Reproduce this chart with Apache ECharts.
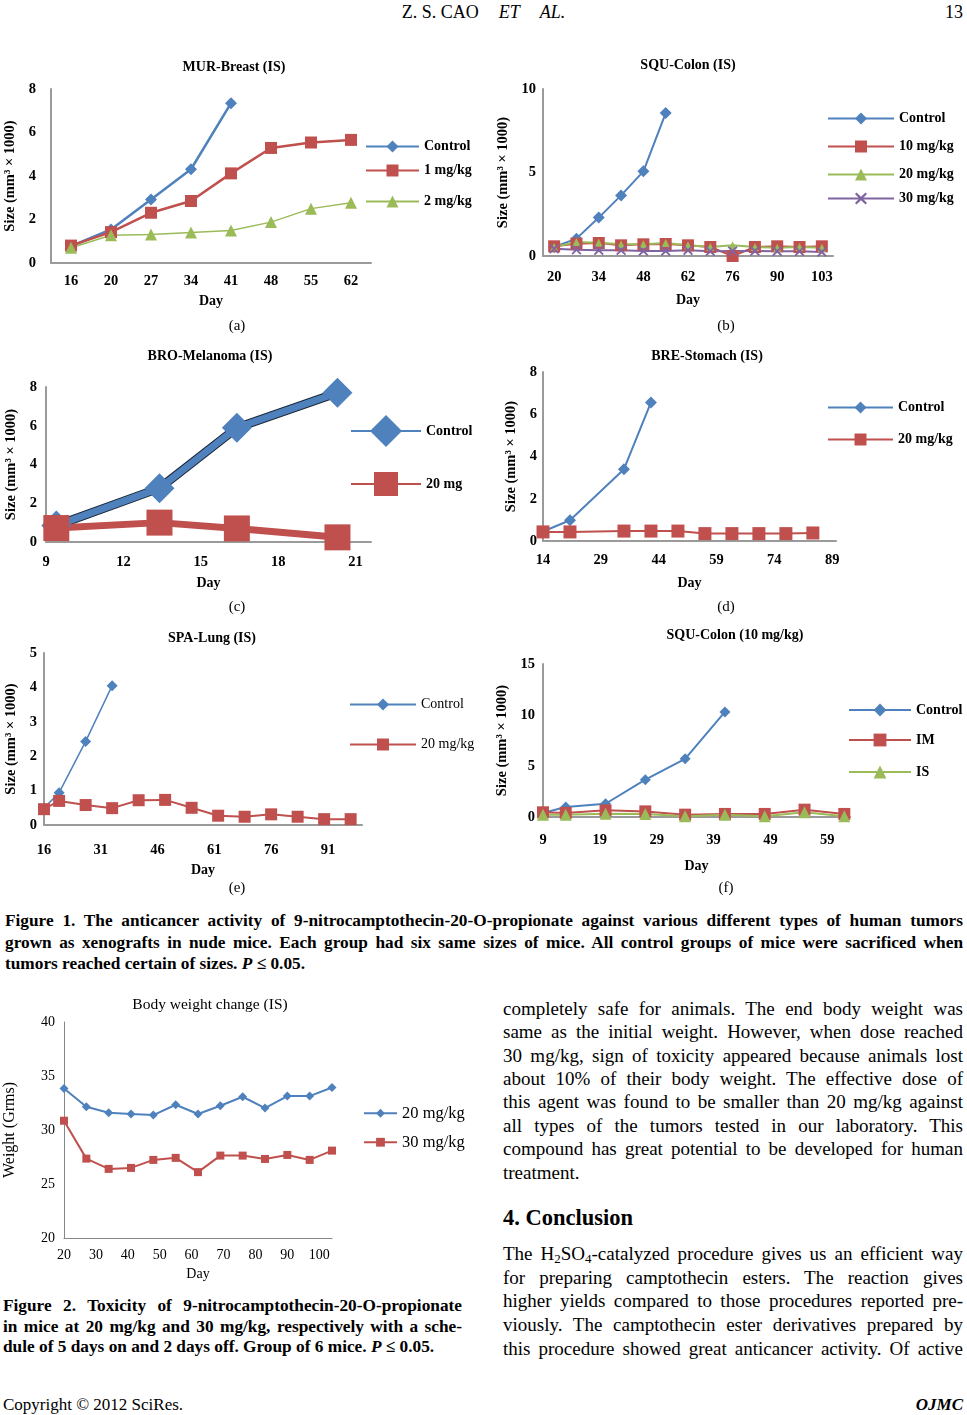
<!DOCTYPE html>
<html lang="en"><head><meta charset="utf-8"><title>Z. S. Cao et al. p.13</title>
<script src="https://cdn.jsdelivr.net/npm/echarts@6.0.0/dist/echarts.min.js"></script>
<style>
html,body{margin:0;padding:0;background:#fff}
body{width:967px;height:1415px;position:relative;overflow:hidden;font-family:"Liberation Serif","Times New Roman",serif;color:#000}
.ch{position:absolute}
.t{position:absolute;white-space:nowrap}
.cap{position:absolute;font-size:15px;line-height:18px;transform:translate(-50%,-50%);white-space:nowrap}
.ln{position:absolute;white-space:normal;overflow:visible}
.j{text-align:justify;text-align-last:justify}
</style></head><body>
<div class="t" style="left:0;width:967px;top:2px;text-align:center;font-size:18px;line-height:20px">Z. S. CAO<span style="margin-left:20px"><i>ET</i></span><span style="margin-left:20px"><i>AL.</i></span></div>
<div class="t" style="right:4px;top:2px;font-size:18px;line-height:20px">13</div>

<div id="ca" class="ch" style="left:0;top:50px;width:480px;height:270px"></div>
<div id="cb" class="ch" style="left:480px;top:50px;width:487px;height:270px"></div>
<div id="cc" class="ch" style="left:0;top:340px;width:480px;height:262px"></div>
<div id="cd" class="ch" style="left:480px;top:340px;width:487px;height:262px"></div>
<div id="ce" class="ch" style="left:0;top:620px;width:480px;height:262px"></div>
<div id="cf" class="ch" style="left:480px;top:620px;width:487px;height:262px"></div>
<div id="cw" class="ch" style="left:0;top:990px;width:480px;height:295px"></div>

<div class="cap" style="left:237px;top:325px">(a)</div>
<div class="cap" style="left:726px;top:325px">(b)</div>
<div class="cap" style="left:237px;top:606px">(c)</div>
<div class="cap" style="left:726px;top:606px">(d)</div>
<div class="cap" style="left:237px;top:887px">(e)</div>
<div class="cap" style="left:726px;top:887px">(f)</div>

<div id="txt"></div>

<div class="t" style="left:3px;top:1395px;font-size:17px;line-height:20px">Copyright © 2012 SciRes.</div>
<div class="t" style="right:4px;top:1395px;font-size:17px;line-height:20px;font-weight:bold;font-style:italic">OJMC</div>

<script>
// ---------------- DATA ----------------
// (a) MUR-Breast (IS)
const aDays = ['16','20','27','34','41','48','55','62'];
const aControl = [0.77, 1.54, 2.92, 4.31, 7.35];
const a1mg = [0.80, 1.42, 2.31, 2.85, 4.12, 5.29, 5.54, 5.66];
const a2mg = [0.70, 1.28, 1.31, 1.40, 1.49, 1.88, 2.50, 2.77];
// (b) SQU-Colon (IS)
const bDays = ['20','27','34','41','48','55','62','69','76','83','90','97','103'];
const bControl = [0.54, 1.04, 2.30, 3.63, 5.07, 8.56];
const b10mg = [0.58, 0.74, 0.78, 0.64, 0.70, 0.72, 0.64, 0.54, 0.00, 0.54, 0.58, 0.54, 0.58];
const b20mg = [0.54, 0.84, 0.80, 0.70, 0.70, 0.78, 0.64, 0.54, 0.64, 0.54, 0.50, 0.54, 0.50];
const b30mg = [0.44, 0.38, 0.34, 0.34, 0.30, 0.30, 0.34, 0.28, 0.30, 0.30, 0.28, 0.28, 0.24];
// (c) BRO-Melanoma (IS)
const cDays = [9.4, 13.4, 16.4, 20.3];
const cControl = [0.85, 2.78, 5.90, 7.70];
const c20mg = [0.72, 1.00, 0.70, 0.24];
// (d) BRE-Stomach (IS)
const dDays = [14, 21, 35, 42, 49, 56, 63, 70, 77, 84];
const dControl = [0.45, 0.98, 3.40, 6.56];
const d20mg = [0.43, 0.43, 0.47, 0.47, 0.47, 0.35, 0.35, 0.35, 0.35, 0.38];
// (e) SPA-Lung (IS)
const eDays = [16, 20, 27, 34, 41, 48, 55, 62, 69, 76, 83, 90, 97];
const eControl = [0.49, 0.94, 2.43, 4.05];
const e20mg = [0.46, 0.70, 0.58, 0.49, 0.72, 0.73, 0.50, 0.27, 0.24, 0.31, 0.24, 0.17, 0.17];
// (f) SQU-Colon (10 mg/kg)
const fDays = [9, 13, 20, 27, 34, 41, 48, 55, 62];
const fControl = [0.40, 0.98, 1.30, 3.66, 5.70, 10.30];
const fIM = [0.46, 0.40, 0.65, 0.55, 0.23, 0.30, 0.30, 0.72, 0.30];
const fIS = [0.23, 0.23, 0.33, 0.30, 0.07, 0.23, 0.07, 0.46, 0.07];
// Figure 2: Body weight change (IS)
const wDays = [20, 27, 34, 41, 48, 55, 62, 69, 76, 83, 90, 97, 104];
const w20mg = [33.85, 32.15, 31.60, 31.48, 31.38, 32.34, 31.48, 32.25, 33.08, 32.03, 33.14, 33.14, 33.94];
const w30mg = [30.86, 27.35, 26.40, 26.49, 27.23, 27.42, 26.10, 27.63, 27.63, 27.32, 27.69, 27.23, 28.09];

// ---------------- TEXT ----------------
const cap1Lines = [
 'Figure 1. The anticancer activity of 9-nitrocamptothecin-20-O-propionate against various different types of human tumors',
 'grown as xenografts in nude mice. Each group had six same sizes of mice. All control groups of mice were sacrificed when',
 'tumors reached certain of sizes. <i>P</i> ≤ 0.05.'
];
const cap2Lines = [
 'Figure 2. Toxicity of 9-nitrocamptothecin-20-O-propionate',
 'in mice at 20 mg/kg and 30 mg/kg, respectively with a sche-',
 'dule of 5 days on and 2 days off. Group of 6 mice. <i>P</i> ≤ 0.05.'
];
const para1Lines = [
 'completely safe for animals. The end body weight was',
 'same as the initial weight. However, when dose reached',
 '30 mg/kg, sign of toxicity appeared because animals lost',
 'about 10% of their body weight. The effective dose of',
 'this agent was found to be smaller than 20 mg/kg against',
 'all types of the tumors tested in our laboratory. This',
 'compound has great potential to be developed for human',
 'treatment.'
];
const headingText = '4. Conclusion';
const para2Lines = [
 'The H<sub style="font-size:13px;vertical-align:-3px;line-height:0">2</sub>SO<sub style="font-size:13px;vertical-align:-3px;line-height:0">4</sub>-catalyzed procedure gives us an efficient way',
 'for preparing camptothecin esters. The reaction gives',
 'higher yields compared to those procedures reported pre-',
 'viously. The camptothecin ester derivatives prepared by',
 'this procedure showed great anticancer activity. Of active'
];

(function(){
  const box = document.getElementById('txt');
  function put(lines, left, width, centers, lh, style, lastJustify){
    lines.forEach((s,i)=>{
      const d = document.createElement('div');
      const just = (i < lines.length-1) || lastJustify;
      d.className = 'ln' + (just ? ' j' : '');
      d.style.cssText += `left:${left}px;width:${width}px;top:${centers[i]-lh/2}px;height:${lh}px;line-height:${lh}px;${style}`;
      d.innerHTML = s;
      box.appendChild(d);
    });
  }
  put(cap1Lines, 5, 958, [920, 942, 963], 21, 'font-size:17.3px;font-weight:bold;', false);
  put(cap2Lines, 3, 459, [1305, 1326, 1346], 21, 'font-size:17.3px;font-weight:bold;', false);
  put(para1Lines, 503, 460, [1008,1031,1055,1078,1101,1125,1148,1172], 23, 'font-size:19px;', false);
  put([headingText], 503, 460, [1218], 26, 'font-size:22.5px;font-weight:bold;', false);
  put(para2Lines, 503, 460, [1253,1277,1300,1324,1348], 23, 'font-size:19px;', true);
})();

// ---------------- CHART HELPERS ----------------
const FONT = 'Liberation Serif';
const BLUE = '#4F81BD', RED = '#C0504D', GREEN = '#9BBB59', PURPLE = '#8064A2';
const AXIS = '#9a9a9a';
const XSYM = 'path://M1.2,0 L5,3.6 L8.8,0 L10,1.2 L6.4,5 L10,8.8 L8.8,10 L5,6.4 L1.2,10 L0,8.8 L3.6,5 L0,1.2 Z';
const YNAME = 'Size (mm³ × 1000)';

function yAx(p){
  const w = p.bold === false ? 'normal' : 'bold';
  return {type:'value', min:p.min, max:p.max, interval:p.interval,
    name:p.name, nameLocation:'middle', nameGap:p.nameGap,
    nameTextStyle:{fontFamily:FONT, fontWeight:w, fontSize:p.nameSize||14.5, color:'#000'},
    axisLine:{show:true, lineStyle:{color:p.lineColor||AXIS, width:p.lineWidth||2}},
    axisTick:{show:false}, splitLine:{show:false},
    axisLabel:{margin:p.margin, fontFamily:FONT, fontWeight:w, fontSize:p.size||14.5, color:'#000'}};
}
function xAx(p){
  const w = p.bold === false ? 'normal' : 'bold';
  const o = {name:'Day', nameLocation:'middle', nameGap:p.nameGap,
    nameTextStyle:{fontFamily:FONT, fontWeight:w, fontSize:p.nameSize||14, color:'#000'},
    axisLine:{show:true, onZero:false, lineStyle:{color:p.lineColor||AXIS, width:p.lineWidth||2}},
    axisTick:{show:false}, splitLine:{show:false},
    axisLabel:{margin:p.margin, fontFamily:FONT, fontWeight:w, fontSize:p.size||14.5, color:'#000'}};
  if (p.cats){ o.type='category'; o.data=p.cats; o.boundaryGap=true; o.axisLabel.interval=p.labelInterval||0; }
  else { o.type='value'; o.min=p.min; o.max=p.max; o.interval=p.interval; o.axisLabel.showMaxLabel=false; }
  return o;
}
function ser(name, data, color, symbol, size, width, extra){
  return Object.assign({type:'line', name:name, data:data, symbol:symbol, symbolSize:size,
    showAllSymbol:true, smooth:false, lineStyle:{color:color, width:width},
    itemStyle:{color:color}, emphasis:{disabled:true}}, extra||{});
}
function pairs(xs, ys){ return ys.map((v,i)=>[xs[i], v]); }
function legs(names, left, centers, iw, ih, size, weight){
  return names.map((n,i)=>{
    const h = Array.isArray(ih) ? ih[i] : ih;
    return {data:[n], left:left, top:centers[i]-Math.max(h, size)/2, orient:'vertical',
      itemWidth:iw, itemHeight:h, padding:0, selectedMode:false,
      textStyle:{fontFamily:FONT, fontWeight:weight, fontSize:size, color:'#000'}};
  });
}
function ttl(text, x, y, size, weight){
  return {type:'text', x:x, y:y, silent:true,
    style:{text:text, fill:'#000', fontFamily:FONT, fontSize:size, fontWeight:weight,
      textAlign:'center', textVerticalAlign:'middle', align:'center', verticalAlign:'middle'}};
}
function draw(id, opt){
  const c = echarts.init(document.getElementById(id));
  opt.animation = false;
  opt.tooltip = {show:false};
  c.setOption(opt);
}

// (a)
draw('ca', {
  graphic:[ttl('MUR-Breast (IS)', 234, 17, 14, 'bold')],
  grid:{left:51, top:39, width:320, height:174, outerBoundsMode:'none'},
  xAxis: xAx({cats:aDays, margin:11, nameGap:30}),
  yAxis: yAx({min:0, max:8, interval:2, margin:15, nameGap:31, name:YNAME}),
  legend: legs(['Control','1 mg/kg','2 mg/kg'], 365, [97,121,152], 53, 15, 14, 'bold'),
  series:[
    ser('Control', aControl, BLUE, 'diamond', 12, 2.5),
    ser('1 mg/kg', a1mg, RED, 'rect', 12, 2.5),
    ser('2 mg/kg', a2mg, GREEN, 'triangle', 12, 1.5)
  ]
});
// (b)
draw('cb', {
  graphic:[ttl('SQU-Colon (IS)', 208, 15, 14, 'bold')],
  grid:{left:63, top:39, width:290, height:167, outerBoundsMode:'none'},
  xAxis: xAx({cats:bDays, labelInterval:1, margin:14, nameGap:37}),
  yAxis: yAx({min:0, max:10, interval:5, margin:7, nameGap:24, name:YNAME}),
  legend: legs(['Control','10 mg/kg','20 mg/kg','30 mg/kg'], 347, [69,97,125,149], 66, 15, 14, 'bold'),
  series:[
    ser('Control', bControl, BLUE, 'diamond', 12, 2),
    ser('10 mg/kg', b10mg, RED, 'rect', 12, 2),
    ser('20 mg/kg', b20mg, GREEN, 'triangle', 8, 2),
    ser('30 mg/kg', b30mg, PURPLE, XSYM, 10, 2)
  ]
});
// (c)
draw('cc', {
  graphic:[ttl('BRO-Melanoma (IS)', 210, 16, 14, 'bold')],
  grid:{left:46, top:47, width:325, height:155, outerBoundsMode:'none'},
  xAxis: xAx({min:9, max:21.6, interval:3, margin:13, nameGap:34}),
  yAxis: yAx({min:0, max:8, interval:2, margin:9, nameGap:26, name:YNAME}),
  legend: legs(['Control','20 mg'], 350, [95,147], 70, [40,30], 14, 'bold'),
  series:[
    ser('outline', pairs(cDays, cControl), '#1b2838', 'none', 0, 9, {silent:true}),
    ser('Control', pairs(cDays, cControl), BLUE, 'diamond', 30, 7),
    ser('20 mg', pairs(cDays, c20mg), RED, 'rect', 26, 7)
  ]
});
// (d)
draw('cd', {
  graphic:[ttl('BRE-Stomach (IS)', 227, 16, 14, 'bold')],
  grid:{left:63, top:32, width:293, height:169, outerBoundsMode:'none'},
  xAxis: xAx({min:14, max:90, interval:15, margin:12, nameGap:35}),
  yAxis: yAx({min:0, max:8, interval:2, margin:6, nameGap:23, name:YNAME}),
  legend: legs(['Control','20 mg/kg'], 347, [68,100], 65, 15, 14, 'bold'),
  series:[
    ser('Control', pairs(dDays, dControl), BLUE, 'diamond', 12, 2),
    ser('20 mg/kg', pairs(dDays, d20mg), RED, 'rect', 13, 2)
  ]
});
// (e)
draw('ce', {
  graphic:[ttl('SPA-Lung (IS)', 212, 18, 14, 'bold')],
  grid:{left:44, top:33, width:318, height:172, outerBoundsMode:'none'},
  xAxis: xAx({min:16, max:100, interval:15, margin:18, nameGap:33}),
  yAxis: yAx({min:0, max:5, interval:1, margin:7, nameGap:24, name:YNAME}),
  legend: legs(['Control','20 mg/kg'], 349, [85,125], 66, 15, 14, 'normal'),
  series:[
    ser('Control', pairs(eDays, eControl), BLUE, 'diamond', 11, 1.5),
    ser('20 mg/kg', pairs(eDays, e20mg), RED, 'rect', 12, 2)
  ]
});
// (f)
draw('cf', {
  graphic:[ttl('SQU-Colon (10 mg/kg)', 255, 15, 14, 'bold')],
  grid:{left:63, top:44, width:307, height:153, outerBoundsMode:'none'},
  xAxis: xAx({min:9, max:63, interval:10, margin:16, nameGap:42}),
  yAxis: yAx({min:0, max:15, interval:5, margin:8, nameGap:24, name:YNAME}),
  legend: legs(['Control','IM','IS'], 368, [91,121,153], 62, 16, 14, 'bold'),
  series:[
    ser('Control', pairs(fDays, fControl), BLUE, 'diamond', 11, 2),
    ser('IM', pairs(fDays, fIM), RED, 'rect', 12, 2),
    ser('IS', pairs(fDays, fIS), GREEN, 'triangle', 12, 2)
  ]
});
// Figure 2
draw('cw', {
  graphic:[ttl('Body weight change (IS)', 210, 15, 15.5, 'normal')],
  grid:{left:64, top:32, width:268, height:216, outerBoundsMode:'none'},
  xAxis: xAx({min:20, max:104, interval:10, margin:10, nameGap:29, bold:false, size:14, nameSize:14, lineColor:'#868686', lineWidth:1}),
  yAxis: yAx({min:20, max:40, interval:5, margin:9, nameGap:46, name:'Weight (Grms)', bold:false, size:14, nameSize:16, lineColor:'#868686', lineWidth:1}),
  legend: legs(['20 mg/kg','30 mg/kg'], 363, [123,152], 33, 11, 16.5, 'normal'),
  series:[
    ser('20 mg/kg', pairs(wDays, w20mg), BLUE, 'diamond', 9, 2),
    ser('30 mg/kg', pairs(wDays, w30mg), RED, 'rect', 8, 2)
  ]
});
</script>
</body></html>
